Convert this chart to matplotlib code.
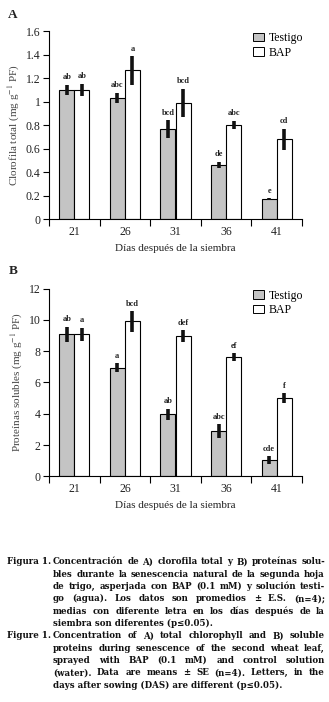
import matplotlib
matplotlib.use("Agg")
import matplotlib.pyplot as plt
import numpy as np
from matplotlib.patches import Patch

plt.rcParams['font.family'] = ['Liberation Serif', 'DejaVu Serif']
plt.rcParams['mathtext.fontset'] = 'stix'

days = ['21', '26', '31', '36', '41']
series = ['Testigo', 'BAP']

chl_testigo = [1.10, 1.03, 0.765, 0.465, 0.17]
chl_testigo_err = [0.042, 0.045, 0.077, 0.025, 0.01]
chl_bap = [1.10, 1.265, 0.99, 0.805, 0.68]
chl_bap_err = [0.052, 0.12, 0.118, 0.034, 0.09]
chl_testigo_lab = ['ab', 'abc', 'bcd', 'de', 'e']
chl_bap_lab = ['ab', 'a', 'bcd', 'abc', 'cd']

prot_testigo = [9.08, 6.95, 3.97, 2.88, 1.02]
prot_testigo_err = [0.48, 0.28, 0.35, 0.45, 0.25]
prot_bap = [9.08, 9.91, 8.96, 7.61, 4.99]
prot_bap_err = [0.43, 0.66, 0.37, 0.26, 0.32]
prot_testigo_lab = ['ab', 'a', 'ab', 'abc', 'cde']
prot_bap_lab = ['a', 'bcd', 'def', 'ef', 'f']

W, H = 329, 702
fig = plt.figure(figsize=(W / 100, H / 100), dpi=100)
fig.patch.set_facecolor('white')

GRAY = '#c4c4c4'
TXT = '#222222'


def panel(rect, t, te, b, be, tl, bl, ymax, ystep, ylabel, letter, letter_y):
    ax = fig.add_axes(rect)
    x = np.arange(len(days))
    w = 0.3
    ax.bar(x - w / 2, t, w, color=GRAY, edgecolor='black', linewidth=0.8, zorder=2)
    ax.bar(x + w / 2, b, w, color='white', edgecolor='black', linewidth=0.8, zorder=2)
    ax.errorbar(x - w / 2, t, yerr=te, fmt='none', ecolor='#111111', elinewidth=2.6, capsize=0, zorder=3)
    ax.errorbar(x + w / 2, b, yerr=be, fmt='none', ecolor='#111111', elinewidth=2.6, capsize=0, zorder=3)
    for xi, v, e, s in zip(x - w / 2, t, te, tl):
        ax.annotate(s, (xi, v + e), xytext=(0, 2.5), textcoords='offset points',
                    ha='center', va='bottom', fontsize=6, fontweight='bold', color=TXT)
    for xi, v, e, s in zip(x + w / 2, b, be, bl):
        ax.annotate(s, (xi, v + e), xytext=(0, 2.5), textcoords='offset points',
                    ha='center', va='bottom', fontsize=6, fontweight='bold', color=TXT)
    ax.set_xlim(-0.5, len(days) - 0.5)
    ax.set_ylim(0, ymax)
    ax.set_xticks(np.arange(len(days) + 1) - 0.5)
    ax.set_xticklabels([])
    ax.set_xticks(x, minor=True)
    ax.set_xticklabels(days, minor=True)
    ax.tick_params(axis='x', which='major', direction='out', length=5, width=0.8)
    ax.tick_params(axis='x', which='minor', length=0, pad=5, labelsize=8.5, labelcolor=TXT)
    yt = np.arange(0, ymax + ystep / 2, ystep)
    ax.set_yticks(yt)
    ax.set_yticklabels(['{:g}'.format(round(v, 2)) for v in yt])
    ax.tick_params(axis='y', direction='out', length=4, width=0.8, labelsize=8.5, labelcolor=TXT, pad=2)
    for s in ['top', 'right']:
        ax.spines[s].set_visible(False)
    for s in ['left', 'bottom']:
        ax.spines[s].set_linewidth(0.8)
    ax.set_ylabel(ylabel, fontsize=8, color='#444444', labelpad=3)
    ax.set_xlabel('Días después de la siembra', fontsize=8, color=TXT, labelpad=4)
    handles = [Patch(facecolor=GRAY, edgecolor='black', linewidth=0.7),
               Patch(facecolor='white', edgecolor='black', linewidth=0.7)]
    ax.legend(handles, series, loc='upper left', bbox_to_anchor=(0.80, 1.0), frameon=False,
              fontsize=8.5, handlelength=1.0, handleheight=0.75, handletextpad=0.4,
              labelspacing=0.2, borderaxespad=0, borderpad=0.1)
    fig.text(13 / W, 1 - letter_y / H, letter, fontsize=9.5, fontweight='bold',
             ha='center', va='center', color=TXT)
    return ax


axA = panel([49 / W, 1 - 219.3 / H, 253 / W, 188.3 / H],
            chl_testigo, chl_testigo_err, chl_bap, chl_bap_err,
            chl_testigo_lab, chl_bap_lab, 1.6, 0.2,
            r'Clorofila total (mg g$^{-1}$ PF)', 'A', 15)
axB = panel([49 / W, 1 - 476.3 / H, 253 / W, 187.6 / H],
            prot_testigo, prot_testigo_err, prot_bap, prot_bap_err,
            prot_testigo_lab, prot_bap_lab, 12, 2,
            r'Proteínas solubles (mg g$^{-1}$ PF)', 'B', 271)

# Caption
cap_es = ["Concentración de A) clorofila total y B) proteínas solu-",
          "bles durante la senescencia natural de la segunda hoja",
          "de trigo, asperjada con BAP (0.1 mM) y solución testi-",
          "go (agua). Los datos son promedios ± E.S. (n=4);",
          "medias con diferente letra en los días después de la",
          "siembra son diferentes (p≤0.05)."]
cap_en = ["Concentration of A) total chlorophyll and B) soluble",
          "proteins during senescence of the second wheat leaf,",
          "sprayed with BAP (0.1 mM) and control solution",
          "(water). Data are means ± SE (n=4). Letters, in the",
          "days after sowing (DAS) are different (p≤0.05)."]

CFAM = ['DejaVu Serif']
fig.canvas.draw()
renderer = fig.canvas.get_renderer()
x_head, x0, x1 = 7, 53, 325
line_h = 12.33

probe = fig.text(0, 0, cap_es[0], fontsize=10, fontweight='bold', family=CFAM)
maxw = 0
for ln in cap_es + cap_en:
    probe.set_text(ln)
    maxw = max(maxw, probe.get_window_extent(renderer).width)
probe.remove()
CFS = 10 * (x1 - x0 - 4) / maxw


def justified(line, y, justify):
    words = line.split(' ')
    if not justify:
        fig.text(x0 / W, 1 - y / H, line, fontsize=CFS, fontweight='bold', family=CFAM,
                 ha='left', va='center', color='#111111')
        return
    objs = []
    widths = []
    for wd in words:
        t = fig.text(0, 0, wd, fontsize=CFS, fontweight='bold', family=CFAM,
                     ha='left', va='center', color='#111111')
        widths.append(t.get_window_extent(renderer).width)
        objs.append(t)
    gap = (x1 - x0 - sum(widths)) / max(len(words) - 1, 1)
    xx = x0
    for t, wdt in zip(objs, widths):
        t.set_position((xx / W, 1 - y / H))
        xx += wdt + gap


y = 561.7
for head, lines in (("Figura 1.", cap_es), ("Figure 1.", cap_en)):
    fig.text(x_head / W, 1 - y / H, head, fontsize=CFS, fontweight='bold', family=CFAM,
             ha='left', va='center', color='#111111')
    for i, ln in enumerate(lines):
        justified(ln, y, i < len(lines) - 1)
        y += line_h

fig.savefig('out.png', dpi=100, facecolor='white')
